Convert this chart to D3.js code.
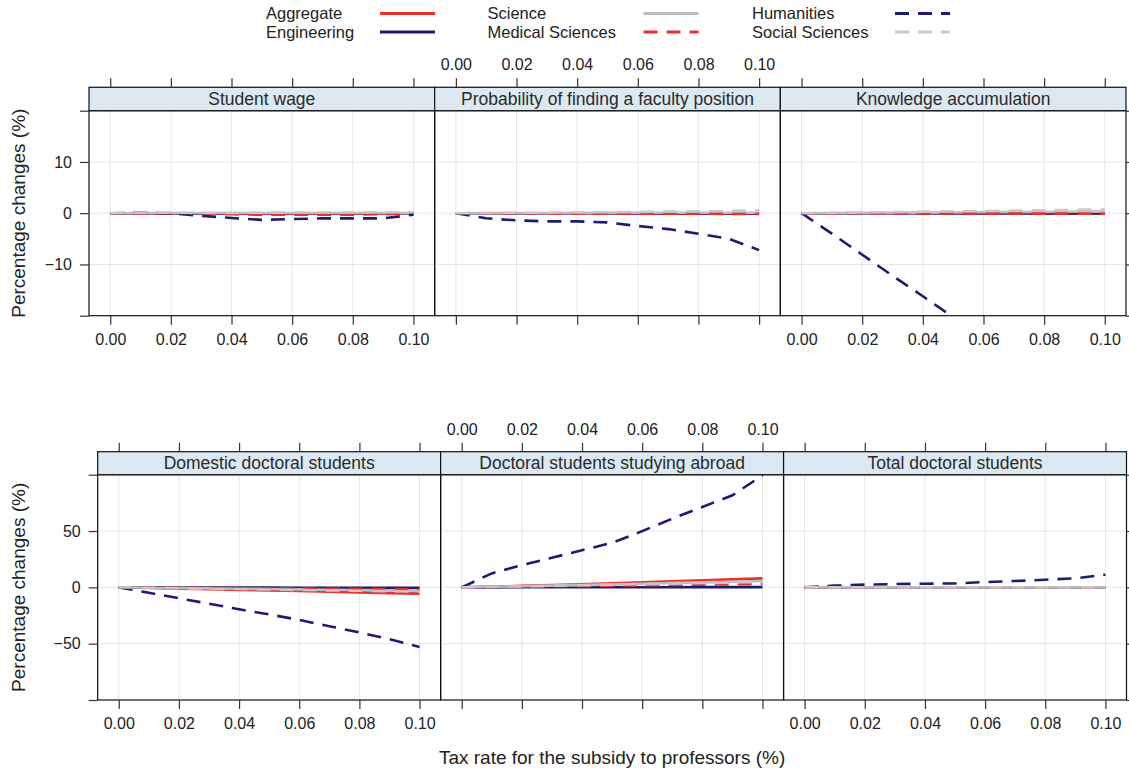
<!DOCTYPE html>
<html><head><meta charset="utf-8">
<script src="https://cdn.jsdelivr.net/npm/d3@7"></script>
<style>
body{margin:0;background:#fff}
svg{display:block;font-family:"Liberation Sans",Arial,Helvetica,sans-serif}
</style>
</head><body>
<svg id="chart" width="1129" height="769"></svg>
<script>
// ---------- data ----------
const taxRates = [0,0.01,0.02,0.03,0.04,0.05,0.06,0.07,0.08,0.09,0.10];
const seriesNames = ["Aggregate","Engineering","Science","Medical Sciences","Humanities","Social Sciences"];
const seriesColors = ["#ec2f2f","#1c1c74","#bdbdbd","#ec2f2f","#1c1c74","#c8c8c8"];
const seriesDashed = [false,false,false,true,true,true];
const panelTitles = ["Student wage","Probability of finding a faculty position","Knowledge accumulation",
  "Domestic doctoral students","Doctoral students studying abroad","Total doctoral students"];
const xTicks = [0,0.02,0.04,0.06,0.08,0.10];
const yTicksTop = [-20,-10,0,10,20];
const yLabelsTop = [-10,0,10];
const yTicksBottom = [-100,-50,0,50,100];
const yLabelsBottom = [-50,0,50];
const xTitle = "Tax rate for the subsidy to professors (%)";
const yTitle = "Percentage changes (%)";

// series order: Aggregate, Engineering, Science, Medical Sciences, Humanities, Social Sciences
const studentWage = [
  [0,0,-0.05,-0.1,-0.1,-0.1,-0.1,-0.1,-0.1,-0.05,0],
  [0,0,0,0,0,0,0,0,0,0,0],
  [0,0.05,0.05,0.05,0.05,0.05,0.05,0.05,0.05,0.05,0.05],
  [0,0,-0.05,-0.1,-0.2,-0.3,-0.3,-0.3,-0.3,-0.2,0],
  [0,0.1,0,-0.5,-0.95,-1.3,-1.15,-1.0,-1.0,-1.0,-0.3],
  [0,0.1,0.1,0.05,0.05,0.1,0.15,0.15,0.15,0.15,0.2]
];
const facultyProb = [
  [0,0,0,0,0,-0.05,-0.05,-0.1,-0.1,-0.1,-0.1],
  [0,0,0,0,0,0,0,0,0,0,0],
  [0,0.02,0.04,0.05,0.06,0.07,0.08,0.09,0.1,0.1,0.1],
  [0,0,0,0,-0.05,-0.05,-0.1,-0.1,-0.1,-0.15,-0.15],
  [0,-1.0,-1.4,-1.6,-1.6,-1.8,-2.5,-3.1,-4.0,-5.0,-7.2],
  [0,0.05,0.1,0.1,0.15,0.2,0.25,0.3,0.35,0.45,0.55]
];
const knowledge = [
  [0,0,0,0,0,-0.05,-0.05,-0.05,-0.1,-0.1,-0.1],
  [0,0,0,0,0,0,0,0,0,0,0],
  [0,0.03,0.06,0.09,0.12,0.15,0.18,0.21,0.24,0.27,0.3],
  [0,0,0,-0.02,-0.04,-0.05,-0.06,-0.07,-0.08,-0.09,-0.1],
  [0,-4.0,-8.1,-12.2,-16.2,-20.3,-24.4,-28.5,-32.6,-36.7,-40.8],
  [0,0.07,0.14,0.21,0.28,0.35,0.42,0.5,0.58,0.65,0.75]
];
const domestic = [
  [0,-0.5,-1.1,-1.6,-2.2,-2.7,-3.3,-3.9,-4.5,-5.1,-5.6],
  [0,-0.05,-0.1,-0.15,-0.2,-0.25,-0.3,-0.35,-0.4,-0.45,-0.5],
  [0,-0.3,-0.6,-0.9,-1.2,-1.5,-1.8,-2.1,-2.4,-2.7,-3.0],
  [0,-0.2,-0.4,-0.5,-0.7,-0.9,-1.1,-1.3,-1.4,-1.6,-1.8],
  [0,-4.8,-9.7,-14.5,-19.5,-24.0,-28.9,-34.5,-40.0,-46.0,-53.0],
  [0,-0.4,-0.8,-1.2,-1.5,-1.9,-2.3,-2.7,-3.0,-3.4,-3.8]
];
const abroad = [
  [0,0.6,1.3,2.0,2.8,3.6,4.4,5.3,6.2,7.1,8.0],
  [0,0.02,0.04,0.06,0.08,0.1,0.12,0.14,0.16,0.18,0.2],
  [0,0.5,1.0,1.5,2.0,2.6,3.2,3.8,4.4,5.0,5.6],
  [0,0.3,0.6,0.9,1.2,1.5,1.8,2.1,2.4,2.7,3.0],
  [0,12.4,19.8,26.3,33.0,39.5,49.9,61.0,71.4,81.7,99.4],
  [0,0.45,0.9,1.35,1.8,2.3,2.8,3.3,3.8,4.3,4.8]
];
const totalStudents = [
  [0,0,0,0,0,0,0,0,0,0,0],
  [0,0,0,0,0,0,0,0,0,0,0],
  [0,0,0,0,0,0,0,0,0,0,0],
  [0,0,0,0,0,0,0,0,0,0,0],
  [0,1.5,2.4,2.9,3.2,3.5,4.7,5.6,6.8,8.0,11.2],
  [0,0,0,0,0,0,0,0,0,0,0]
];
const panelData = [studentWage, facultyProb, knowledge, domestic, abroad, totalStudents];

// ---------- layout ----------
const svg = d3.select("#chart");
const rows = [
  {left:89, right:1126, stripTop:87.3, plotTop:110.7, plotBottom:315.7, ydom:[-20,20], yTicks:yTicksTop, yLabels:yLabelsTop},
  {left:97.7, right:1126.5, stripTop:451.7, plotTop:474.7, plotBottom:700, ydom:[-100,100], yTicks:yTicksBottom, yLabels:yLabelsBottom}
];
const tickColor = "#333", textColor = "#222";
const fmtX = d3.format(".2f");
const fmtY = d => d < 0 ? "\u2212" + Math.abs(d) : String(d);

const defs = svg.append("defs");

rows.forEach((row, r) => {
  const pw = (row.right - row.left) / 3;
  const y = d3.scaleLinear().domain(row.ydom).range([row.plotBottom, row.plotTop]);
  for (let j = 0; j < 3; j++) {
    const idx = r * 3 + j;
    const x0 = row.left + j * pw, x1 = x0 + pw;
    const x = d3.scaleLinear().domain([-0.007, 0.107]).range([x0, x1]);
    const g = svg.append("g");

    // grid
    g.selectAll(".gx").data(xTicks).join("line")
      .attr("x1", d => x(d)).attr("x2", d => x(d))
      .attr("y1", row.plotTop).attr("y2", row.plotBottom)
      .attr("stroke", "#e6e6e6").attr("stroke-width", 1);
    g.selectAll(".gy").data(row.yLabels).join("line")
      .attr("x1", x0).attr("x2", x1)
      .attr("y1", d => y(d)).attr("y2", d => y(d))
      .attr("stroke", "#e6e6e6").attr("stroke-width", 1);

    // clip
    const cid = "clip" + idx;
    defs.append("clipPath").attr("id", cid).append("rect")
      .attr("x", x0).attr("y", row.plotTop).attr("width", pw).attr("height", row.plotBottom - row.plotTop);

    const line = d3.line().x((d, i) => x(taxRates[i])).y(d => y(d));
    const lg = g.append("g").attr("clip-path", `url(#${cid})`);
    panelData[idx].forEach((vals, s) => {
      lg.append("path").datum(vals)
        .attr("d", line)
        .attr("fill", "none")
        .attr("stroke", seriesColors[s])
        .attr("stroke-width", 2.6)
        .attr("stroke-dasharray", seriesDashed[s] ? "14,9" : null);
    });

    // plot border
    g.append("rect").attr("x", x0).attr("y", row.plotTop).attr("width", pw)
      .attr("height", row.plotBottom - row.plotTop)
      .attr("fill", "none").attr("stroke", "#111").attr("stroke-width", 1.2);
    // strip
    g.append("rect").attr("x", x0).attr("y", row.stripTop).attr("width", pw)
      .attr("height", row.plotTop - row.stripTop)
      .attr("fill", "#dce9f3").attr("stroke", "#111").attr("stroke-width", 1.2);
    g.append("text").attr("x", (x0 + x1) / 2).attr("y", (row.stripTop + row.plotTop) / 2)
      .attr("dy", "0.35em").attr("text-anchor", "middle")
      .attr("font-size", 17.5).attr("fill", "#2a2a2a").text(panelTitles[idx]);

    // bottom axis
    const axB = d3.axisBottom(x).tickValues(xTicks).tickSize(9).tickPadding(9)
      .tickFormat(j === 1 ? () => "" : fmtX);
    const gb = g.append("g").attr("transform", `translate(0,${row.plotBottom})`).call(axB);
    // top axis
    const axT = d3.axisTop(x).tickValues(xTicks).tickSize(9).tickPadding(8)
      .tickFormat(j === 1 ? fmtX : () => "");
    const gt = g.append("g").attr("transform", `translate(0,${row.stripTop})`).call(axT);
    [gb, gt].forEach(a => {
      a.select(".domain").remove();
      a.selectAll("line").attr("stroke", tickColor).attr("stroke-width", 1.2);
      a.selectAll("text").attr("font-size", 16).attr("fill", textColor).attr("font-family", null);
    });
    // left axis
    if (j === 0) {
      const axL = d3.axisLeft(y).tickValues(row.yTicks).tickSize(9).tickPadding(8)
        .tickFormat(d => row.yLabels.includes(d) ? fmtY(d) : "");
      const gl = g.append("g").attr("transform", `translate(${x0},0)`).call(axL);
      gl.select(".domain").remove();
      gl.selectAll("line").attr("stroke", tickColor).attr("stroke-width", 1.2);
      gl.selectAll("text").attr("font-size", 16).attr("fill", textColor).attr("font-family", null);
    }
    if (j === 2) {
      const axR = d3.axisRight(y).tickValues(row.yTicks).tickSize(9).tickFormat(() => "");
      const gr = g.append("g").attr("transform", `translate(${x1},0)`).call(axR);
      gr.select(".domain").remove();
      gr.selectAll("line").attr("stroke", tickColor).attr("stroke-width", 1.2);
    }
  }
  // y title
  svg.append("text")
    .attr("transform", `translate(18,${(row.plotTop + row.plotBottom) / 2}) rotate(-90)`)
    .attr("dy", "0.35em").attr("text-anchor", "middle")
    .attr("font-size", 19).attr("fill", textColor).text(yTitle);
});

// x title
svg.append("text").attr("x", (rows[1].left + rows[1].right) / 2).attr("y", 757)
  .attr("dy", "0.35em").attr("text-anchor", "middle")
  .attr("font-size", 19).attr("fill", textColor).text(xTitle);

// legend
const legCols = [{tx:266, lx1:380, lx2:435},{tx:487.5, lx1:643.5, lx2:698.5},{tx:752, lx1:895, lx2:950}];
const legRows = [13.5, 32];
seriesNames.forEach((name, s) => {
  const c = legCols[Math.floor(s / 2)], ry = legRows[s % 2];
  svg.append("text").attr("x", c.tx).attr("y", ry).attr("dy", "0.35em")
    .attr("font-size", 16.5).attr("fill", textColor).text(name);
  svg.append("line").attr("x1", c.lx1).attr("x2", c.lx2).attr("y1", ry).attr("y2", ry)
    .attr("stroke", seriesColors[s]).attr("stroke-width", 2.8)
    .attr("stroke-dasharray", seriesDashed[s] ? "14,9" : null);
});
</script>
</body></html>
